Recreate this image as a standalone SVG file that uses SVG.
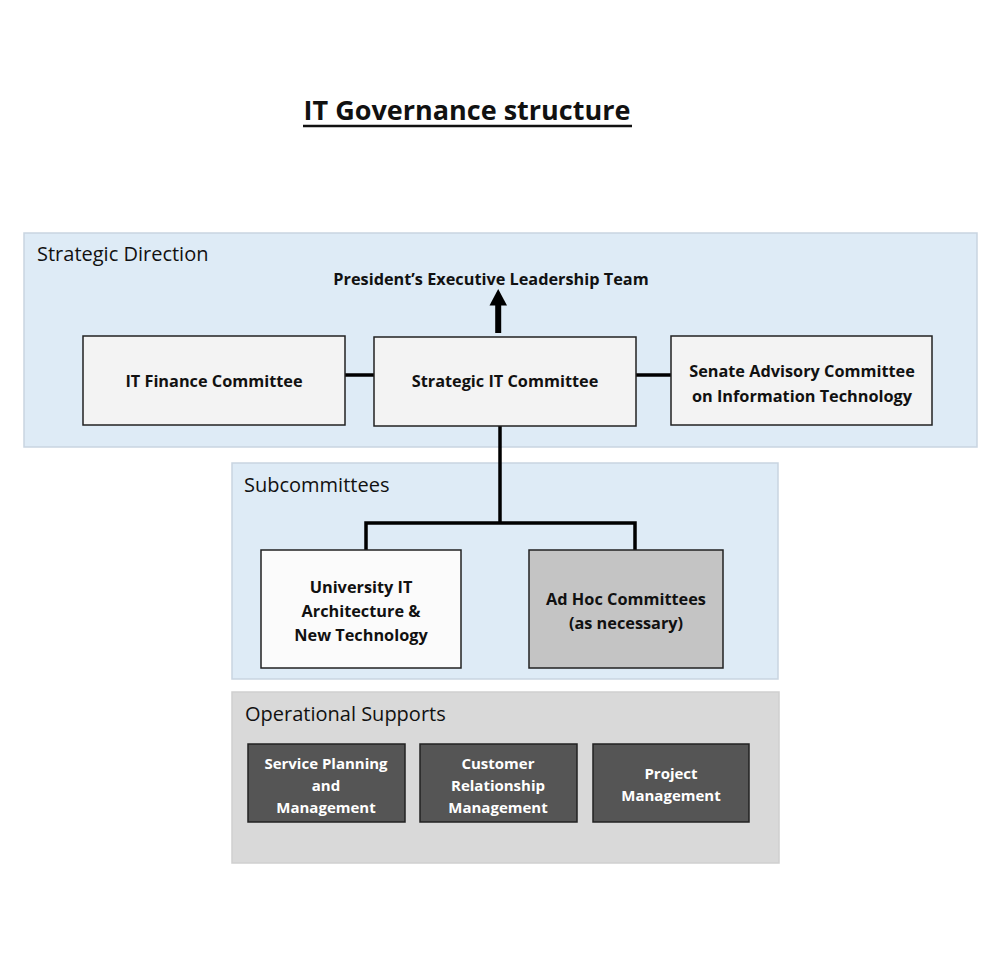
<svg xmlns="http://www.w3.org/2000/svg" width="1000" height="963" viewBox="0 0 1000 963">
<defs>
<style>
text{font-family:"Open Sans","Noto Sans","Liberation Sans",sans-serif;}
.panel-blue{fill:#deebf6;stroke:#c9d5e1;stroke-width:1.5;}
.panel-grey{fill:#d9d9d9;stroke:#cfcfcf;stroke-width:1.5;}
.plabel{font-size:20px;fill:#111;}
.box{stroke:#222;stroke-width:1.5;}
.light{fill:#f3f3f3;}
.white{fill:#fbfbfb;}
.mid{fill:#c4c4c4;}
.dark{fill:#555555;stroke:#222;stroke-width:1.5;}
.bt{font-size:16.3px;font-weight:bold;fill:#111;text-anchor:middle;}
.wt{font-size:15px;font-weight:bold;fill:#fff;text-anchor:middle;}
.conn{stroke:#000;stroke-width:3.5;fill:none;}
</style>
</defs>
<rect width="1000" height="963" fill="#fff"/>

<g id="title">
<text x="467" y="120" text-anchor="middle" font-size="27" font-weight="bold" fill="#111">IT Governance structure</text>
<line x1="303" y1="126" x2="632" y2="126" stroke="#111" stroke-width="2.5"/>
</g>

<g id="panel-strategic">
<rect class="panel-blue" x="24" y="233" width="953" height="214"/>
<text class="plabel" x="37" y="261">Strategic Direction</text>
</g>
<g id="panel-sub">
<rect class="panel-blue" x="232" y="463" width="546" height="216"/>
<text class="plabel" x="244" y="492">Subcommittees</text>
</g>
<g id="panel-ops">
<rect class="panel-grey" x="232" y="692" width="547" height="171"/>
<text class="plabel" x="245" y="721">Operational Supports</text>
</g>

<g id="connectors">
<line x1="498.2" y1="333" x2="498.2" y2="302" stroke="#000" stroke-width="6"/>
<path d="M489.5,305.5 L498.2,289 L507,305.5 Z" fill="#000"/>
<line class="conn" x1="345" y1="375" x2="374" y2="375"/>
<line class="conn" x1="636" y1="375" x2="671" y2="375"/>
<line class="conn" x1="500" y1="426" x2="500" y2="523"/>
<polyline class="conn" points="366,550 366,523 635,523 635,550"/>
</g>

<g id="president">
<text class="bt" x="491" y="285">President’s Executive Leadership Team</text>
</g>

<g id="it-finance">
<rect class="box light" x="83" y="336" width="262" height="89"/>
<text class="bt" x="214" y="387">IT Finance Committee</text>
</g>
<g id="strategic-it">
<rect class="box light" x="374" y="337" width="262" height="89"/>
<text class="bt" x="505" y="387">Strategic IT Committee</text>
</g>
<g id="senate">
<rect class="box light" x="671" y="336" width="261" height="89"/>
<text class="bt" x="802" y="377">Senate Advisory Committee</text>
<text class="bt" x="802" y="402">on Information Technology</text>
</g>

<g id="university">
<rect class="box white" x="261" y="550" width="200" height="118"/>
<text class="bt" x="361" y="593">University IT</text>
<text class="bt" x="361" y="617">Architecture &amp;</text>
<text class="bt" x="361" y="641">New Technology</text>
</g>
<g id="adhoc">
<rect class="box mid" x="529" y="550" width="194" height="118"/>
<text class="bt" x="626" y="605">Ad Hoc Committees</text>
<text class="bt" x="626" y="629">(as necessary)</text>
</g>

<g id="service">
<rect class="dark" x="248" y="744" width="157" height="78"/>
<text class="wt" x="326" y="769">Service Planning</text>
<text class="wt" x="326" y="791">and</text>
<text class="wt" x="326" y="813">Management</text>
</g>
<g id="customer">
<rect class="dark" x="420" y="744" width="157" height="78"/>
<text class="wt" x="498" y="769">Customer</text>
<text class="wt" x="498" y="791">Relationship</text>
<text class="wt" x="498" y="813">Management</text>
</g>
<g id="project">
<rect class="dark" x="593" y="744" width="156" height="78"/>
<text class="wt" x="671" y="779">Project</text>
<text class="wt" x="671" y="801">Management</text>
</g>
</svg>
